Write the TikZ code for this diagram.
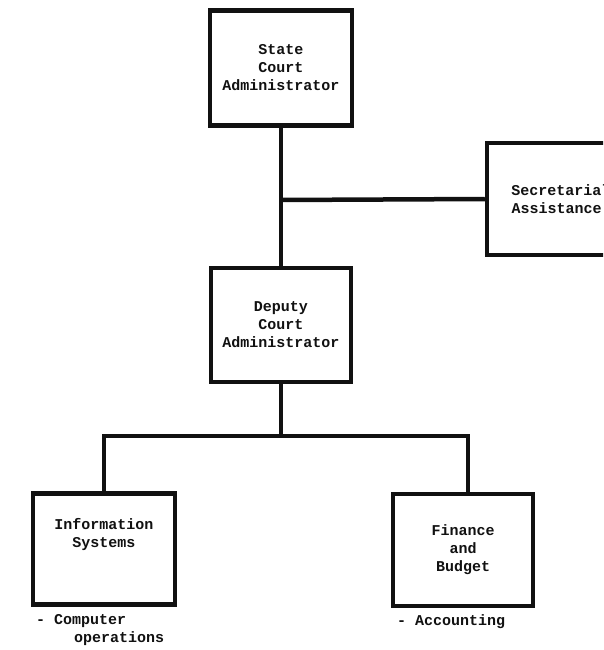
\documentclass[tikz,border=0pt]{standalone}
\usepackage{fontspec}
\setmonofont{Liberation Mono}
\usepackage{xcolor}
\definecolor{inkcolor}{HTML}{111111}
\definecolor{papercolor}{HTML}{FFFFFF}
\usepackage{tikz}
\usetikzlibrary{positioning,calc}
\tikzset{
    orgbox/.style={
        rectangle,
        draw=inkcolor,
        fill=papercolor,
        text=inkcolor,
        line width=4.5pt,
        align=center,
        font=\fontsize{15}{18}\selectfont\ttfamily\bfseries,
        inner sep=0pt,
    },
    link/.style={
        draw=inkcolor,
        line width=4.5pt,
    },
    note/.style={
        text=inkcolor,
        align=left,
        anchor=north west,
        inner sep=0pt,
        font=\fontsize{15}{18}\selectfont\ttfamily\bfseries,
    },
}

\begin{document}
\begin{tikzpicture}[x=1pt,y=-1pt]
    \useasboundingbox[fill=papercolor] (0,0) rectangle (603,650);
    \clip (0,0) rectangle (603,650);

    % Top of the chart
    \node[orgbox, minimum width=142pt, minimum height=115pt] (state) at (281,68) {State\\Court\\Administrator};
    \node[orgbox, minimum width=140pt, minimum height=112pt] (secretarial) at (557,199) {\hspace*{8pt}Secretarial\\\hspace*{8pt}Assistance\hspace*{9pt}};
    \node[orgbox, minimum width=140pt, minimum height=114pt] (deputy) at (281,325) {Deputy\\Court\\Administrator};

    % Divisions
    \node[orgbox, minimum width=142pt, minimum height=111pt] (info) at (104,549) {Information\\Systems\\[14pt]};
    \node[orgbox, minimum width=140pt, minimum height=112pt] (finance) at (463,550) {Finance\\and\\Budget};

    % Duties under each division
    \node[note] (infonote) at (36,614) {- Computer\\\hspace*{38pt}operations};
    \node[note] (financenote) at (397,614) {- Accounting};

    % Connections
    \coordinate (staff) at (281,200);
    \coordinate (branch) at (281,436);
    \draw[link] (state.south) -- (deputy.north);
    \draw[link] (staff) -- (secretarial.west);
    \draw[link] (deputy.south) -- (branch);
    \draw[link] (info.north) |- (branch) -| ($(finance.north)+(5,0)$);
\end{tikzpicture}
\end{document}
